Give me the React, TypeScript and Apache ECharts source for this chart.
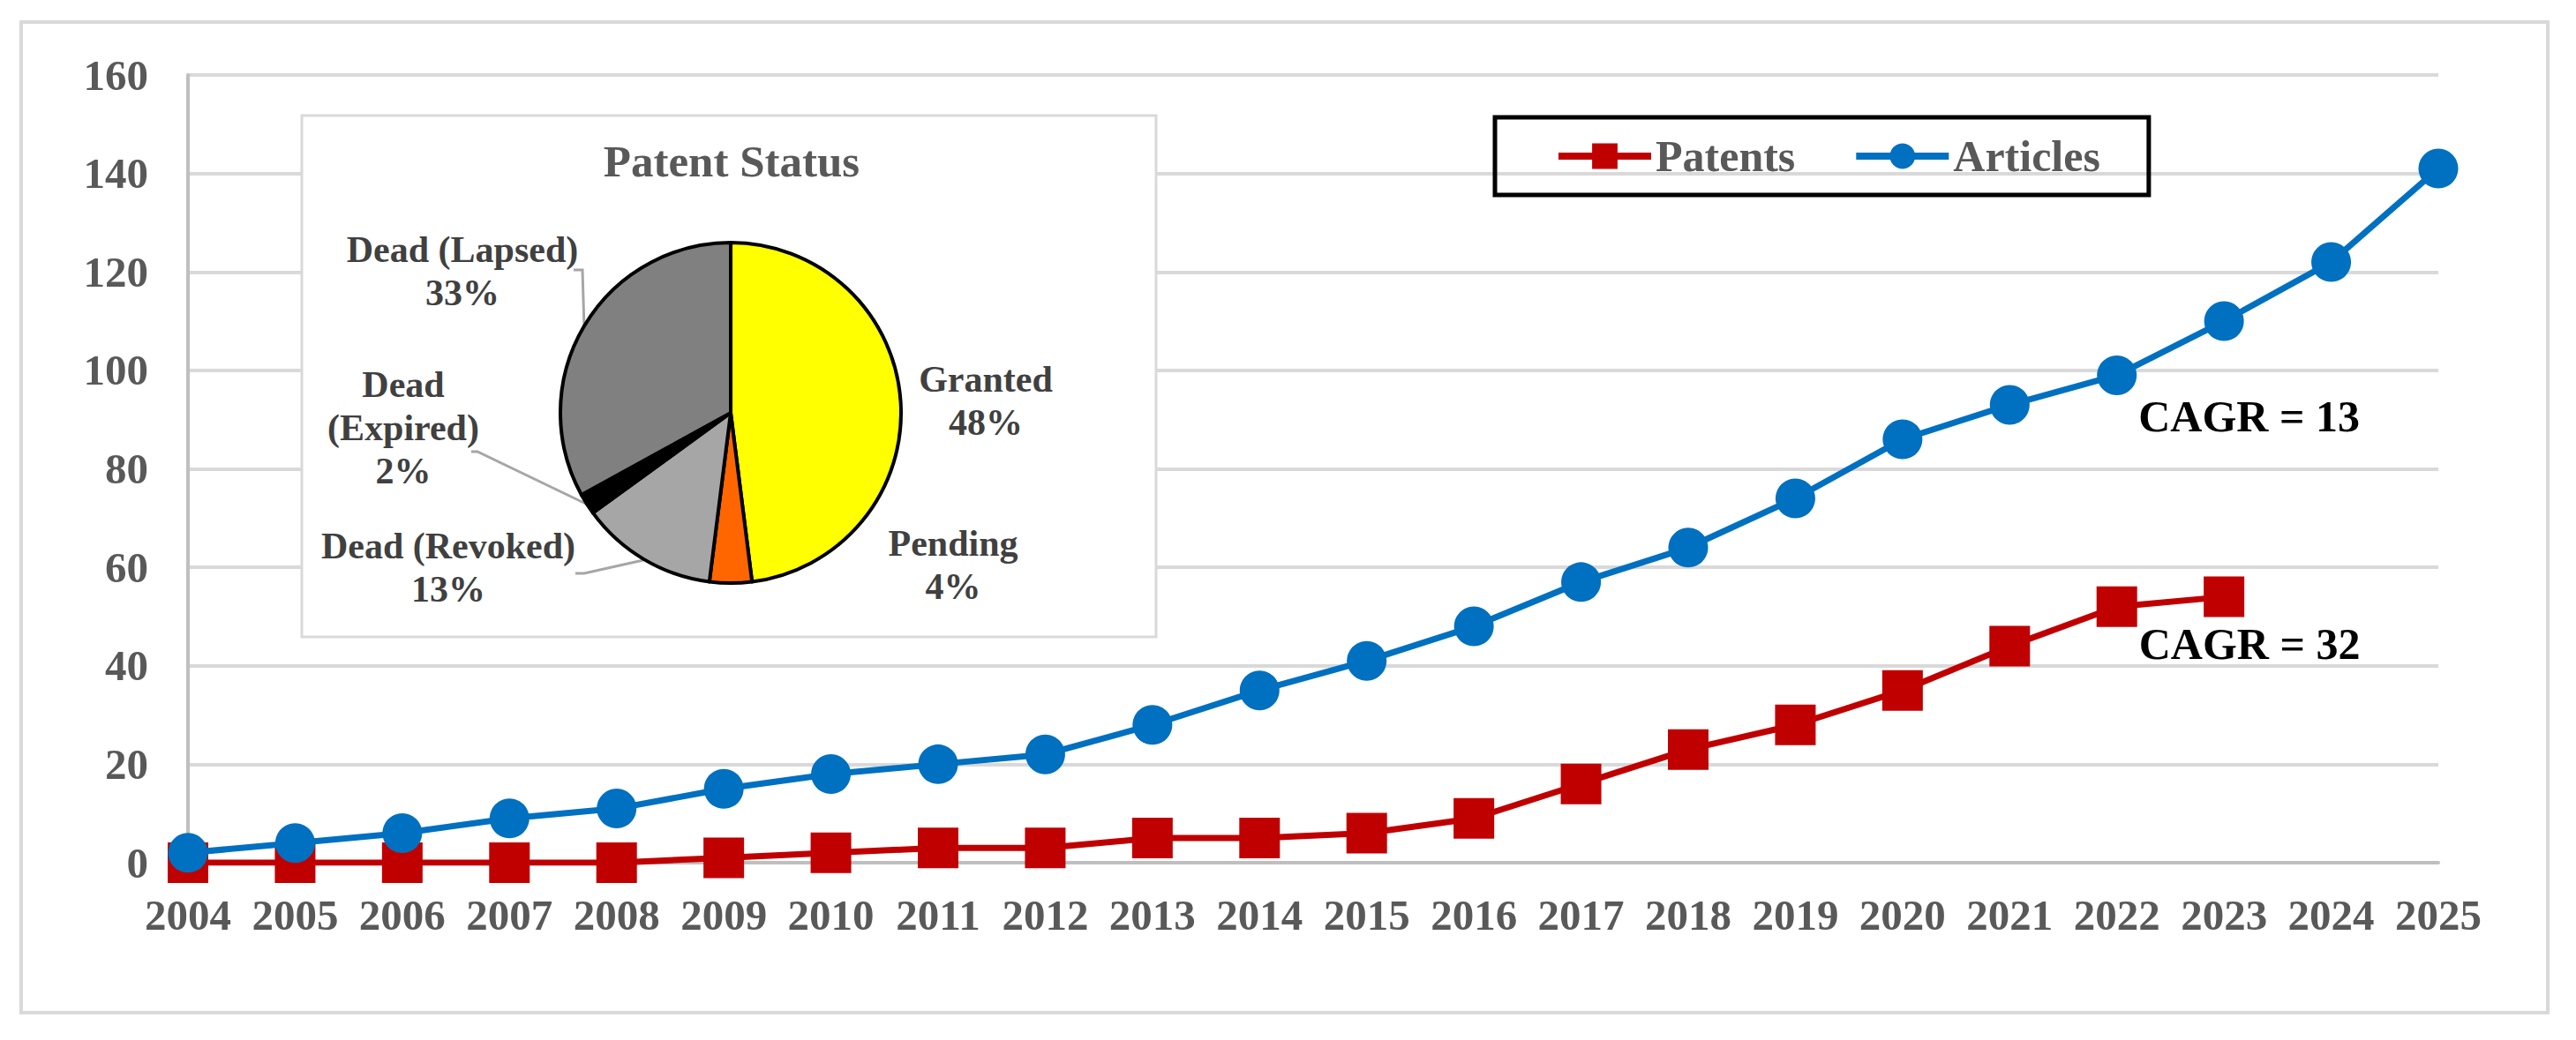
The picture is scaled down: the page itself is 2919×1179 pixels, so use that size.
import React, { useEffect, useRef } from "react";
import * as echarts from "echarts";

const years = ["2004","2005","2006","2007","2008","2009","2010","2011","2012","2013","2014","2015","2016","2017","2018","2019","2020","2021","2022","2023","2024","2025"];
const patents = [0,0,0,0,0,1,2,3,3,5,5,6,9,16,23,28,35,44,52,54];
const articles = [2,4,6,9,11,15,18,20,22,28,35,41,48,57,64,74,86,93,99,110,122,141];
const yTicks = { min: 0, max: 160, interval: 20 };
const pieNames = ["Granted","Pending","Dead (Revoked)","Dead (Expired)","Dead (Lapsed)"];
const pieLabelText = ["Granted","Pending","Dead (Revoked)","Dead\n(Expired)","Dead (Lapsed)"];
const pieValues = [48,4,13,2,33];
const pieColors = ["#FFFF00","#FF6600","#A6A6A6","#000000","#808080"];
const cagrArticles = "CAGR = 13";
const cagrPatents = "CAGR = 32";

const FONT = "'Liberation Serif', 'Times New Roman', serif";

// label layout positions for pie labels (pixels)
const pieLabelPos = [
  { x: 1117, y: 454, line: null },
  { x: 1080, y: 640, line: null },
  { x: 508, y: 643, line: [[729, 635], [662, 650], [652, 650]] },
  { x: 457, y: 485, line: [[672, 575], [541, 512], [534, 512]] },
  { x: 524, y: 307, line: [[662, 372], [660, 306], [650, 306]] },
];

export default function App() {
  const ref = useRef<HTMLDivElement>(null);
  useEffect(() => {
    if (!ref.current) return;
    const chart = echarts.init(ref.current, undefined, { renderer: "svg" });
    const cagrIdx = years.indexOf("2022");
    const cagrLabel = (text: string, pos: number[]) => ({
      show: true,
      formatter: text,
      position: pos,
      align: "left",
      verticalAlign: "middle",
      color: "#000000",
      fontFamily: FONT,
      fontWeight: "bold",
      fontSize: 50,
    });
    const articleData = articles.map((v, i) =>
      i === cagrIdx ? { value: v, label: cagrLabel(cagrArticles, [47, 69]) } : v
    );
    const patentData = patents.map((v, i) =>
      i === cagrIdx ? { value: v, label: cagrLabel(cagrPatents, [48, 65]) } : v
    );
    const option: any = {
      animation: false,
      backgroundColor: "#ffffff",
      textStyle: { fontFamily: FONT },
      grid: { left: 213, right: 156, top: 85, bottom: 201, containLabel: false },
      legend: {
        left: 1694,
        top: 133,
        padding: [19, 55, 19, 68],
        borderColor: "#000000",
        borderWidth: 5,
        itemWidth: 105,
        itemHeight: 36,
        itemGap: 65,
        lineStyle: { width: 8 },
        textStyle: { color: "#595959", fontFamily: FONT, fontWeight: "bold", fontSize: 50 },
        data: ["Patents", "Articles"],
        z: 10,
      },
      xAxis: {
        type: "category",
        data: years,
        boundaryGap: false,
        axisLine: { show: true, lineStyle: { color: "#BFBFBF", width: 4 } },
        axisTick: { show: false },
        axisLabel: {
          interval: 0,
          hideOverlap: false,
          color: "#595959",
          fontFamily: FONT,
          fontWeight: "bold",
          fontSize: 49,
          margin: 35,
        },
        splitLine: { show: false },
      },
      yAxis: {
        type: "value",
        min: yTicks.min,
        max: yTicks.max,
        interval: yTicks.interval,
        axisLine: { show: true, lineStyle: { color: "#BFBFBF", width: 4 } },
        axisTick: { show: false },
        axisLabel: {
          color: "#595959",
          fontFamily: FONT,
          fontWeight: "bold",
          fontSize: 49,
          margin: 45,
        },
        splitLine: { show: true, lineStyle: { color: "#D9D9D9", width: 4 } },
      },
      graphic: [
        {
          type: "rect",
          shape: { x: 24, y: 25, width: 2863, height: 1123 },
          style: { fill: "none", stroke: "#D9D9D9", lineWidth: 4 },
          z: 0,
          silent: true,
        },
        {
          type: "rect",
          shape: { x: 342, y: 131, width: 968, height: 591 },
          style: { fill: "#ffffff", stroke: "#D9D9D9", lineWidth: 3 },
          z: 1,
          silent: true,
        },
        {
          type: "text",
          x: 829,
          y: 183,
          style: {
            text: "Patent Status",
            fill: "#595959",
            font: `bold 51px ${FONT}`,
            align: "center",
            verticalAlign: "middle",
          },
          z: 2,
        },
      ],
      series: [
        {
          name: "Patents",
          type: "line",
          data: patentData,
          symbol: "rect",
          symbolSize: 46,
          itemStyle: { color: "#C00000" },
          lineStyle: { color: "#C00000", width: 7 },
          z: 3,
        },
        {
          name: "Articles",
          type: "line",
          data: articleData,
          symbol: "circle",
          symbolSize: 45,
          itemStyle: { color: "#0070C0" },
          lineStyle: { color: "#0070C0", width: 7 },
          z: 4,
        },
        {
          name: "Patent Status",
          type: "pie",
          center: [828, 468],
          radius: 193,
          startAngle: 90,
          clockwise: true,
          avoidLabelOverlap: false,
          z: 5,
          data: pieValues.map((v, i) => ({
            name: pieNames[i],
            value: v,
            itemStyle: { color: pieColors[i] },
            labelLine: { show: pieLabelPos[i].line !== null },
          })),
          itemStyle: { borderColor: "#000000", borderWidth: 4 },
          label: {
            show: true,
            position: "outside",
            formatter: (p: any) => `${pieLabelText[p.dataIndex]}\n${p.value}%`,
            color: "#404040",
            fontFamily: FONT,
            fontWeight: "bold",
            fontSize: 42,
            lineHeight: 49,
            align: "center",
          },
          labelLine: { lineStyle: { color: "#A6A6A6", width: 3 }, length: 20, length2: 10 },
          labelLayout: (params: any) => {
            const p = pieLabelPos[params.dataIndex];
            const out: any = { x: p.x, y: p.y, align: "center", verticalAlign: "middle" };
            if (p.line) out.labelLinePoints = p.line;
            return out;
          },
        },
      ],
    };
    chart.setOption(option);
    return () => chart.dispose();
  }, []);
  return (
    <div
      ref={ref}
      style={{ position: "fixed", left: 0, top: 0, width: 2919, height: 1179, background: "#fff" }}
    />
  );
}
